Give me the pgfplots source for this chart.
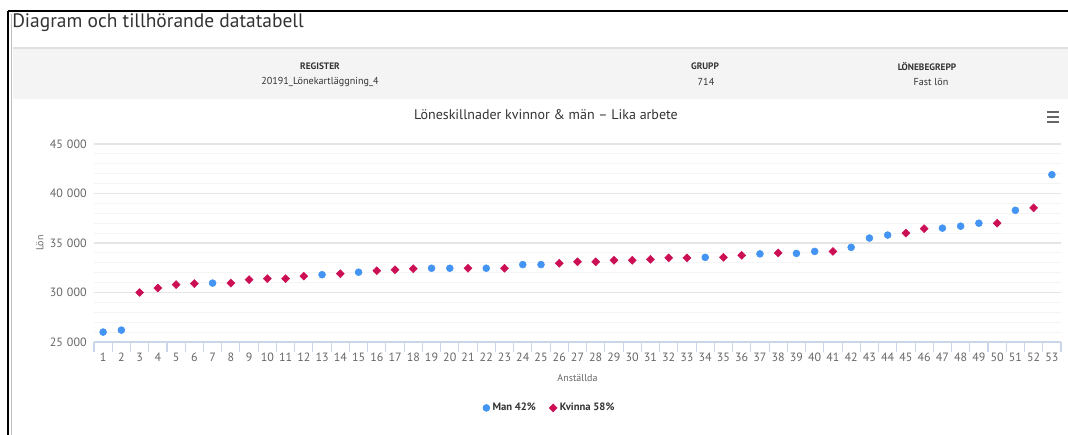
\documentclass[border=0pt]{standalone}
\usepackage{fontspec}
\setmainfont{PT Sans}
\usepackage{pgfplots}
\pgfplotsset{compat=1.18}
\usepackage{pgfplotstable}
\definecolor{manblue}{RGB}{67,148,243}
\definecolor{kvred}{RGB}{204,14,85}
\definecolor{txt}{RGB}{51,51,51}
\definecolor{lbl}{RGB}{102,102,102}
\definecolor{band}{RGB}{244,244,244}
\definecolor{axline}{RGB}{204,214,235}

\pgfplotstableread{
x y
1 26000
2 26200
7 30950
13 31800
15 32050
19 32450
20 32450
22 32450
24 32820
25 32820
34 33550
37 33900
39 33950
40 34150
42 34560
43 35500
44 35800
47 36500
48 36700
49 37000
51 38300
53 41900
}\mantable

\pgfplotstableread{
x y
3 30000
4 30450
5 30800
6 30900
8 30950
9 31300
10 31400
11 31400
12 31650
14 31900
16 32200
17 32300
18 32400
21 32450
23 32450
26 32950
27 33100
28 33100
29 33250
30 33250
31 33350
32 33500
33 33500
35 33550
36 33750
38 34000
41 34150
45 36000
46 36450
50 37000
52 38550
}\kvtable

\begin{document}
\begin{tikzpicture}[x=0.75pt,y=0.75pt]
\useasboundingbox (0,0) rectangle (1068,435);
% frame
\draw[black,line width=1.1pt] (8,424) -- (1068,424);
\draw[black,line width=1.1pt] (8,424) -- (8,0);
\draw[black!25,line width=0.8pt] (11.5,421) -- (11.5,0);
% page title
\node[anchor=base west,inner sep=0pt,text=txt] at (12,407) {\fontsize{14.6}{18}\selectfont Diagram och tillhörande datatabell};
% header band
\fill[band] (13,336) rectangle (1068,387);
\draw[black!12,line width=0.8pt] (13,387) -- (1068,387);
\node[text=txt,inner sep=0pt] at (320,368.5) {\bfseries\fontsize{7}{8}\selectfont REGISTER};
\node[text=txt,inner sep=0pt] at (320,353) {\fontsize{7.6}{10}\selectfont 20191\_Lönekartläggning\_4};
\node[text=txt,inner sep=0pt] at (705,368.5) {\bfseries\fontsize{7}{8}\selectfont GRUPP};
\node[text=txt,inner sep=0pt] at (706,353) {\fontsize{7.6}{10}\selectfont 714};
\node[text=txt,inner sep=0pt] at (927,368.5) {\bfseries\fontsize{7}{8}\selectfont LÖNEBEGREPP};
\node[text=txt,inner sep=0pt] at (931,353) {\fontsize{7.6}{10}\selectfont Fast lön};
% chart title
\node[text=txt,inner sep=0pt] at (546,320) {\fontsize{10.5}{13}\selectfont Löneskillnader kvinnor \& män – Lika arbete};
% menu icon
\foreach \yy in {313,318,323} \draw[lbl,line width=1.5pt] (1047,\yy) -- (1059,\yy);
\begin{axis}[
  scale only axis,
  width=725.25pt, height=148.5pt,
  at={(70.5pt,69.75pt)}, anchor=south west,
  xmin=0.5, xmax=53.5, ymin=25000, ymax=45000,
  axis line style={draw=none},
  xtick={1,...,53},
  minor xtick={0.5,1.5,...,53.5},
  xtick pos=bottom,
  ytick pos=left,
  ytick={25000,30000,...,45000},
  minor ytick={26000,27000,...,44000},
  tick align=outside,
  major tick length=0pt,
  minor tick length=7.5pt,
  minor x tick style={axline,line width=0.8pt},
  minor y tick style={draw=none},
  ymajorgrids, yminorgrids,
  major grid style={black!10,line width=0.8pt},
  minor grid style={black!4.5,line width=0.8pt},
  /pgf/number format/assume math mode=true,
  /pgf/number format/1000 sep={\,\,},
  yticklabel style={font=\fontsize{9}{10}\selectfont,text=lbl,xshift=-2pt},
  xticklabel style={font=\fontsize{9}{10}\selectfont,text=lbl,yshift=-4.5pt},
  scaled y ticks=false,
  xlabel={Anställda},
  xlabel style={font=\fontsize{7.5}{9}\selectfont,text=lbl,yshift=-3pt},
  ylabel={Lön},
  ylabel style={font=\fontsize{7.5}{9}\selectfont,text=lbl,yshift=-2pt},
  legend columns=2,
  legend style={at={(0.4716,-0.333)},anchor=center,draw=none,fill=none,
    font=\bfseries\fontsize{8}{9}\selectfont,text=txt,
    /tikz/every even column/.append style={column sep=8pt}},
  clip=false,
]
\draw[axline,line width=0.8pt] (axis cs:0.5,25000) -- (axis cs:53.5,25000);
\addplot[only marks,mark=*,mark size=2.6pt,color=manblue,mark options={draw=manblue,fill=manblue}] table[x=x,y=y] {\mantable};
\addlegendentry{Man 42\%}
\addplot[only marks,mark=square*,mark size=2.1pt,color=kvred,mark options={draw=kvred,fill=kvred,rotate=45}] table[x=x,y=y] {\kvtable};
\addlegendentry{Kvinna 58\%}
\end{axis}
\end{tikzpicture}
\end{document}
